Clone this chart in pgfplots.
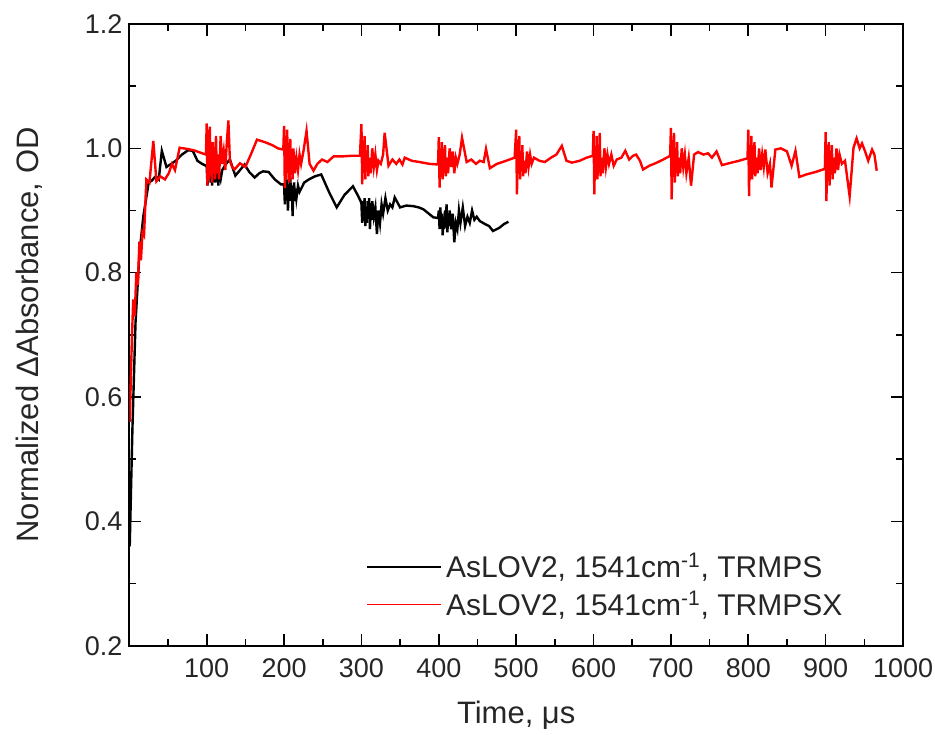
\documentclass[border=0pt]{standalone}
\usepackage{fontspec}
\setmainfont{Liberation Sans}
\usepackage{pgfplots}
\pgfplotsset{compat=1.18}
\definecolor{trred}{HTML}{FF0000}

\begin{document}
\begin{tikzpicture}
\begin{axis}[
  width=387pt, height=311pt, scale only axis,
  xmin=0, xmax=1000, ymin=0.2, ymax=1.2,
  xtick={100,200,...,1000}, minor xtick={50,150,...,950},
  ytick={0.2,0.4,...,1.2}, minor ytick={0.3,0.5,...,1.1},
  tick align=inside,
  major tick length=6pt, minor tick length=3.5pt,
  every tick/.style={black, line width=0.8pt},
  axis line style={line width=1pt},
  tick label style={font=\fontsize{13.5}{15}\selectfont, text=black!85},
  /pgf/number format/assume math mode=true,
  yticklabel style={/pgf/number format/.cd, fixed, fixed zerofill, precision=1},
  xticklabel style={yshift=-3pt, /pgf/number format/.cd, fixed, 1000 sep={}},
  xlabel={Time, μs}, ylabel={Normalized ΔAbsorbance, OD},
  label style={font=\fontsize{15.5}{17}\selectfont, text=black!85},
  xlabel style={at={(axis description cs:0.5,-0.112)}, anchor=center},
  ylabel style={at={(axis description cs:-0.13,0.5)}, anchor=center},
  legend style={draw=none, fill=none, font=\fontsize{15}{18}\selectfont,
    text=black!85, at={(0.935,0.03)}, anchor=south east, row sep=1pt},
  legend cell align=left,
  legend image code/.code={\draw[#1, line width=0.7pt] (0pt,0pt) -- (37pt,0pt);},
]
\addplot[black, line width=1.2pt] coordinates {
(0.5,0.36) (4,0.55) (8,0.72) (13,0.83) (18,0.89) (25,0.945) (29,0.948) (34,0.955) (38,0.95) (42,0.996) (48,0.97) (54,0.975) (60,0.98) (68,0.99) (76,0.997) (82,0.996) (88,0.98) (94,0.975) (99,0.972)
(100,0.97) (101,0.94) (102,0.975) (103,0.95) (104,0.98) (105,0.945) (106,0.97) (107,0.94) (108,0.965) (109,0.955) (110,0.975) (111,0.945) (112,0.96) (113,0.95) (114,0.97) (115,0.94) (116,0.96) (118,0.95) (120,0.965)
(125,0.975) (130,0.982) (137,0.956) (143,0.965) (149,0.974) (155,0.962) (162,0.953) (168,0.96) (173,0.963) (180,0.962) (188,0.95) (196,0.942) (199,0.942)
(200,0.94) (201,0.91) (202,0.945) (203,0.92) (204,0.95) (205,0.9) (206,0.935) (207,0.915) (208,0.955) (209,0.925) (210,0.94) (211,0.891) (212,0.93) (213,0.945) (214,0.915) (215,0.935) (216,0.92) (218,0.94) (220,0.93)
(226,0.945) (232,0.95) (240,0.955) (248,0.958) (258,0.93) (268,0.905) (278,0.925) (289,0.939) (295,0.925) (299,0.915)
(300,0.91) (301,0.88) (302,0.915) (303,0.89) (304,0.92) (305,0.875) (306,0.905) (307,0.88) (308,0.915) (309,0.895) (310,0.92) (311,0.87) (312,0.9) (313,0.885) (314,0.915) (316,0.89) (318,0.905) (320,0.862) (322,0.9) (324,0.88) (326,0.91) (328,0.895) (331,0.92) (334,0.9) (337,0.91) (340,0.905) (343,0.921)
(350,0.905) (358,0.908) (367,0.907) (374,0.905) (380,0.902) (387,0.895) (393,0.889) (399,0.888)
(400,0.9) (401,0.87) (402,0.905) (403,0.875) (404,0.895) (405,0.86) (406,0.89) (407,0.87) (408,0.9) (409,0.88) (410,0.91) (411,0.865) (412,0.885) (413,0.875) (414,0.9) (416,0.87) (418,0.895) (420,0.849) (422,0.88) (424,0.87) (426,0.9) (428,0.88) (431,0.905) (434,0.875) (437,0.89) (440,0.88) (443,0.9) (446,0.885) (449,0.89)
(453,0.883) (460,0.878) (465,0.875) (470,0.867) (478,0.872) (484,0.878) (490,0.882)
};
\addlegendentry{AsLOV2, 1541cm\textsuperscript{-1}, TRMPS}
\addplot[trred, line width=1.2pt] coordinates {
(0.5,0.56) (3,0.68) (5,0.757) (7,0.73) (9,0.80) (11,0.78) (13,0.85) (15,0.82) (17,0.865) (19,0.86) (22,0.95) (26,0.945) (31,1.012) (35,0.947) (40,0.955) (46,0.95) (51,0.96) (55,0.975) (59,0.965) (65,1.001) (75,0.999) (83,0.997) (92,0.993) (99,0.99)
(100,1.04) (101,0.94) (102,1.03) (103,0.95) (104,1.035) (105,0.96) (106,1.0) (107,0.945) (108,1.01) (109,0.97) (110,0.99) (111,0.95) (112,1.02) (113,0.96) (114,0.99) (116,0.95) (118,1.02) (120,0.975) (122,0.995) (124,0.965) (126,1.01) (128,1.045) (130,0.98) (133,0.97) (136,0.966)
(143,0.976) (150,0.97) (157,0.99) (165,1.014) (175,1.01) (185,1.005) (192,1.0) (199,0.998)
(200,1.036) (201,0.936) (202,1.02) (203,0.95) (204,1.03) (205,0.96) (206,1.0) (207,0.945) (208,1.015) (209,0.97) (210,0.99) (211,0.95) (212,1.0) (214,0.96) (216,0.985) (218,0.965) (220,0.99) (222,0.975) (225,0.995) (229,1.028) (233,0.975) (238,0.964) (243,0.975) (249,0.982) (256,0.978) (264,0.987) (275,0.987) (287,0.988) (298,0.988)
(300,1.039) (301,0.942) (302,1.0) (303,0.96) (304,1.02) (305,0.95) (306,0.99) (307,0.965) (308,1.005) (309,0.955) (310,0.985) (312,0.96) (314,1.0) (316,0.97) (318,0.99) (320,0.965) (322,0.98) (325,0.975) (328,0.99) (330,1.025) (335,0.972) (340,0.982) (345,0.975) (349,0.982) (353,0.974) (356,0.985) (365,0.98) (375,0.978) (388,0.975) (399,0.974)
(400,1.018) (401,0.937) (402,1.0) (403,0.96) (404,1.01) (405,0.95) (406,0.99) (407,0.965) (408,1.005) (409,0.955) (410,0.985) (412,0.96) (414,1.0) (416,0.97) (418,0.995) (420,0.96) (422,0.985) (424,0.975) (427,0.99) (430,1.017) (436,0.978) (442,0.982) (448,0.975) (453,0.98) (458,0.978) (461,0.999) (466,0.968) (475,0.975) (487,0.98) (498,0.985)
(500,1.03) (501,0.926) (502,1.0) (503,0.96) (504,1.02) (505,0.95) (506,0.99) (507,0.965) (508,1.005) (509,0.955) (510,0.98) (512,0.96) (514,0.995) (516,0.97) (518,0.99) (520,0.975) (523,0.985) (530,0.98) (537,0.978) (545,0.985) (552,0.99) (559,1.004) (565,0.98) (572,0.977) (582,0.98) (591,0.985) (599,0.988)
(600,1.028) (601,0.926) (602,1.0) (603,0.955) (604,1.02) (605,0.95) (606,0.99) (607,0.965) (608,1.025) (609,0.955) (610,0.985) (612,0.96) (614,1.0) (616,0.97) (618,0.99) (620,0.975) (623,0.99) (626,0.972) (630,0.982) (636,0.985) (641,0.996) (646,0.982) (651,0.988) (655,0.99) (660,0.98) (664,0.966) (672,0.972) (680,0.976) (690,0.982) (699,0.988)
(700,1.033) (701,0.918) (702,1.0) (703,0.96) (704,1.025) (705,0.945) (706,0.99) (707,0.965) (708,1.01) (709,0.955) (710,0.985) (712,0.96) (714,1.0) (716,0.97) (718,0.99) (720,0.96) (723,0.985) (726,0.94) (730,0.99) (735,0.994) (742,0.99) (748,0.992) (753,0.985) (759,0.995) (766,0.973) (775,0.976) (788,0.98) (799,0.984)
(800,1.03) (801,0.923) (802,1.0) (803,0.96) (804,1.02) (805,0.95) (806,0.99) (807,0.965) (808,1.01) (809,0.955) (810,0.985) (812,0.96) (814,1.0) (816,0.965) (818,0.99) (820,0.97) (822,0.998) (825,0.96) (828,0.975) (830,0.937) (835,0.998) (842,1.0) (850,0.995) (856,0.972) (861,0.996) (866,0.954) (875,0.958) (887,0.962) (899,0.967)
(900,1.026) (901,0.915) (902,1.0) (903,0.955) (904,1.01) (905,0.94) (906,0.99) (907,0.96) (908,1.005) (909,0.95) (910,0.985) (912,0.96) (914,1.0) (916,0.965) (918,0.99) (921,0.975) (925,0.98) (931,0.923) (936,1.001) (940,1.016) (944,1.0) (947,1.008) (951,0.995) (955,0.98) (960,0.998) (963,0.99) (966,0.964)
};
\addlegendentry{AsLOV2, 1541cm\textsuperscript{-1}, TRMPSX}
\end{axis}
\pgfresetboundingbox
\useasboundingbox (current axis.south west) ++(-64.7pt,-44.5pt) rectangle ([xshift=16pt,yshift=12pt]current axis.north east);
\end{tikzpicture}
\end{document}
